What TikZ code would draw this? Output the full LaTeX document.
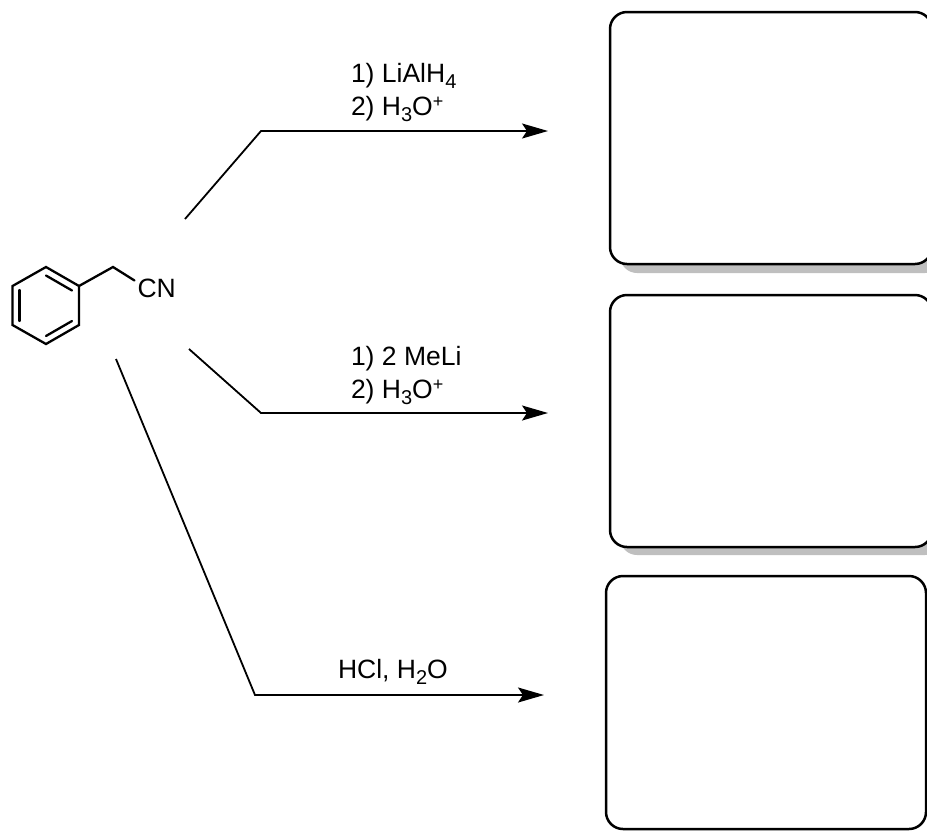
\documentclass[tikz,border=0pt]{standalone}
\usepackage{fontspec}
\setmainfont{Liberation Sans}
\usetikzlibrary{arrows.meta}
\newcommand{\lowr}[1]{\raisebox{-6pt}{\fontsize{20}{20}\selectfont #1}}
\newcommand{\upr}[1]{\raisebox{8pt}{\fontsize{18}{18}\selectfont #1}}
\tikzset{
  x=1pt,y=-1pt,
  bond/.style={line width=2.3pt,line join=miter,line cap=round},
  reaction/.style={line width=1.8pt,line join=miter,-{Stealth[length=26pt,width=15pt,inset=5pt]}},
  answerbox/.style={draw=black,line width=2.5pt,fill=white,rounded corners=17pt},
  shadowbox/.style={fill=black!25,draw=none,rounded corners=17pt},
  reagent/.style={inner sep=0pt,outer sep=0pt,anchor=base west,font=\fontsize{26.5}{33}\selectfont}
}
\begin{document}
\begin{tikzpicture}
\useasboundingbox (0,0) rectangle (927,831);
\clip (0,0) rectangle (927,831);
% answer boxes
\fill[shadowbox] (620,22) rectangle (942,273);
\draw[answerbox] (610,12) rectangle (932,264);
\fill[shadowbox] (620,305) rectangle (942,555);
\draw[answerbox] (610,295) rectangle (932,547);
\draw[answerbox] (606,576) rectangle (926,829);
% benzene ring
\coordinate (r1) at (46,267);
\coordinate (r2) at (79,286);
\coordinate (r3) at (79,325);
\coordinate (r4) at (46,344);
\coordinate (r5) at (12.5,325);
\coordinate (r6) at (12.5,286);
\coordinate (ch2) at (113,267);
\draw[bond] (r1) -- (r2) -- (r3) -- (r4) -- (r5) -- (r6) -- cycle;
\coordinate (d1a) at (46,275.5);
\coordinate (d1b) at (72,290.5);
\coordinate (d2a) at (46,336);
\coordinate (d2b) at (72,321);
\coordinate (d3a) at (19.5,290);
\coordinate (d3b) at (19.5,321);
\draw[bond] (d1a) -- (d1b);
\draw[bond] (d2a) -- (d2b);
\draw[bond] (d3a) -- (d3b);
\node[reagent] (cn) at (137.5,297) {CN};
\coordinate (cnb) at (134.5,280.5);
\draw[bond] (r2) -- (ch2) -- (cnb);
% arrows
\coordinate (a1s) at (185,219);
\coordinate (a1k) at (261,131);
\coordinate (a1e) at (548,131);
\coordinate (a2s) at (189,349);
\coordinate (a2k) at (261,413);
\coordinate (a2e) at (548,413);
\coordinate (a3s) at (116,359);
\coordinate (a3k) at (255,695);
\coordinate (a3e) at (544,695);
\draw[reaction] (a1s) -- (a1k) -- (a1e);
\draw[reaction] (a2s) -- (a2k) -- (a2e);
\draw[reaction] (a3s) -- (a3k) -- (a3e);
% reagents
\node[reagent] (t1a) at (351,82) {1) LiAlH\lowr{4}};
\node[reagent] (t1b) at (351,115) {2) H\lowr{3}O\upr{+}};
\node[reagent] (t2a) at (351,365) {1) 2 MeLi};
\node[reagent] (t2b) at (351,398) {2) H\lowr{3}O\upr{+}};
\node[reagent] (t3) at (338,678) {HCl, H\lowr{2}O};
\end{tikzpicture}
\end{document}
